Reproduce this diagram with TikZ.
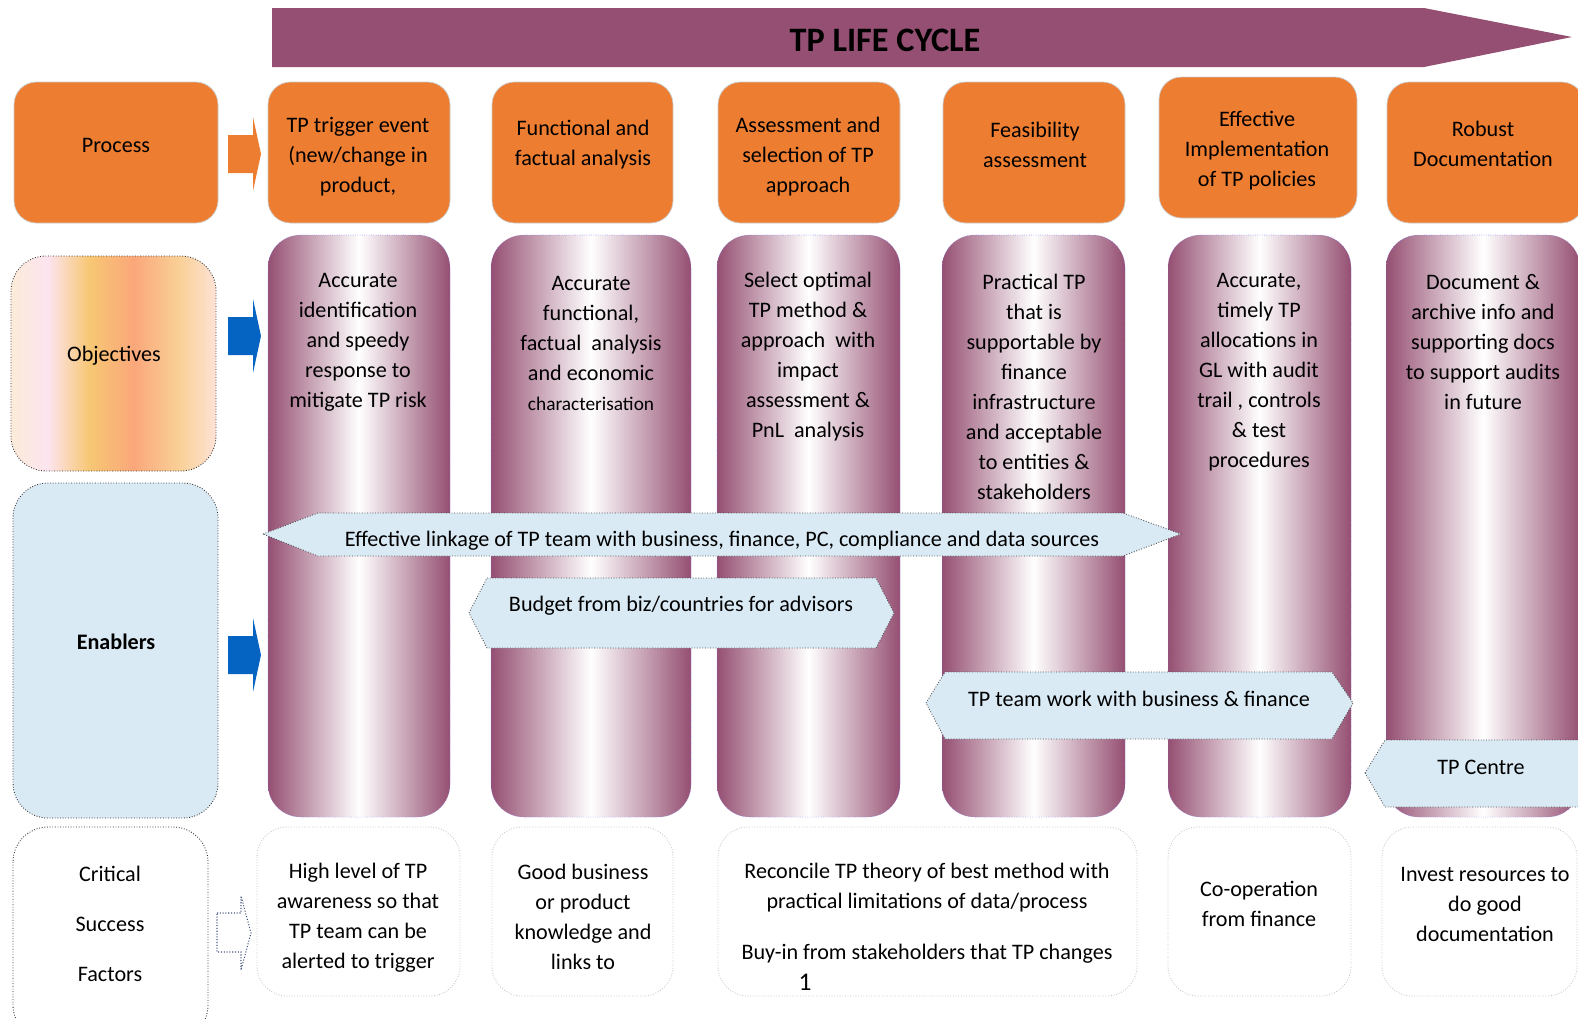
\documentclass[tikz,border=0pt]{standalone}
\usepackage{fontspec}
\setmainfont{Carlito}
\usepackage{tikz}

\definecolor{berry}{RGB}{149,79,114}
\definecolor{procorange}{RGB}{237,125,49}
\definecolor{paleblue}{RGB}{218,234,245}
\definecolor{arrowblue}{RGB}{5,99,193}
\definecolor{hollowblue}{RGB}{68,84,126}
\definecolor{objA}{RGB}{252,235,217}
\definecolor{objB}{RGB}{252,228,239}
\definecolor{objC}{RGB}{247,199,116}
\definecolor{objD}{RGB}{250,167,122}
\definecolor{objE}{RGB}{249,208,151}
\definecolor{objF}{RGB}{254,226,213}
\pgfdeclarehorizontalshading{objshade}{100bp}{color(0bp)=(objA); color(25bp)=(objA); color(34bp)=(objB); color(44bp)=(objC); color(55bp)=(objD); color(66bp)=(objE); color(75bp)=(objF); color(100bp)=(objF)}

\newcommand\txtsize{\fontsize{12.6}{17.07}\selectfont}

\begin{document}
\begin{tikzpicture}[x=0.02cm, y=-0.02cm,
    procbox/.style={fill=procorange, draw=gray!40, line width=0.4pt, rounded corners=0.45cm},
    tube/.style={left color=berry, right color=berry, middle color=white, draw=blue!50, densely dotted, line width=0.3pt, rounded corners=0.65cm},
    sidebox/.style={draw=black!80, densely dotted, line width=0.5pt, rounded corners=0.7cm},
    enabler/.style={fill=paleblue, draw=black!70, densely dotted, line width=0.5pt},
    csfbox/.style={draw=gray!45, densely dotted, line width=0.5pt, rounded corners=0.6cm},
    hollowarrow/.style={fill=white, draw=hollowblue, densely dotted, line width=0.6pt},
    txt/.style={align=center, font=\txtsize, inner sep=0pt}]
  \useasboundingbox (0,0) rectangle (1578,1018);
  \clip (0,0) rectangle (1578,1018);

  % life cycle banner
  \fill[berry] (272,8) -- (1424,8) -- (1572,37) -- (1424,67) -- (272,67) -- cycle;
  \node[font=\fontsize{19.5}{23}\selectfont\bfseries] (title) at (885,40) {TP LIFE CYCLE};

  % process row
  \draw[procbox] (14,82) rectangle (218,223);
  \foreach \a/\b in {268/450, 492/673, 718/900, 943/1125, 1387/1584}
    \draw[procbox] (\a,82) rectangle (\b,223);
  \draw[procbox] (1159,77) rectangle (1357,218);

  % objective columns
  \foreach \a/\b in {268/450, 491/691, 717/900, 942/1125, 1168/1351, 1386/1580}
    \shade[tube] (\a,235) rectangle (\b,817);

  % row headers
  \shade[sidebox, shading=objshade] (11,256) rectangle (216,471);
  \draw[sidebox, fill=paleblue] (13,483) rectangle (218,818);
  \draw[sidebox] (13,827) rectangle (208,1040);

  % block arrows
  \foreach \yc/\col in {154/procorange, 336/arrowblue, 655/arrowblue}
    \fill[\col, shift={(0,\yc)}] (228,-19) -- (253,-19) -- (253,-37) -- (261,0) -- (253,37) -- (253,19) -- (228,19) -- cycle;
  \draw[hollowarrow] (217,913) -- (241,913) -- (241,896) -- (251,933) -- (241,970) -- (241,952) -- (217,952) -- cycle;

  % enabler bars
  \draw[enabler] (263,534) -- (318,513) -- (1123,513) -- (1181,534) -- (1123,556) -- (318,556) -- cycle;
  \draw[enabler] (469,613) -- (487,578) -- (876,578) -- (894,613) -- (876,648) -- (487,648) -- cycle;
  \draw[enabler] (926,703) -- (945,672) -- (1332,672) -- (1353,703) -- (1332,739) -- (945,739) -- cycle;
  \draw[enabler] (1365,773) -- (1385,740) -- (1620,740) -- (1620,807) -- (1385,807) -- cycle;

  % critical success factors
  \foreach \a/\b in {257/460, 492/673, 718/1137, 1168/1351, 1382/1577}
    \draw[csfbox] (\a,827) rectangle (\b,996);

  % texts
  \node[txt] (proc) at (116,145) {Process};
  \node[txt] (p1) at (358,157) {TP trigger event\\(new/change in\\product,};
  \node[txt] (p2) at (583,145) {Functional and\\factual analysis};
  \node[txt] (p3) at (808,157) {Assessment and\\selection of TP\\approach};
  \node[txt] (p4) at (1035,145) {Feasibility\\assessment};
  \node[txt] (p5) at (1257,151) {Effective\\Implementation\\of TP policies};
  \node[txt] (p6) at (1483,144) {Robust\\Documentation};

  \node[txt] (obj) at (114,356) {Objectives};
  \node[txt] (o1) at (358,342) {Accurate\\identification\\and speedy\\response to\\mitigate TP risk};
  \node[txt] (o2) at (591,343) {Accurate\\functional,\\factual\ \ analysis\\and economic\\{\fontsize{11}{15}\selectfont characterisation}};
  \node[txt] (o3) at (808,357) {Select optimal\\TP method \&\\approach\ \ with\\impact\\assessment \&\\PnL\ \ analysis};
  \node[txt] (o4) at (1034,387) {Practical TP\\that is\\supportable by\\finance\\infrastructure\\and acceptable\\to entities \&\\stakeholders};
  \node[txt] (o5) at (1259,372) {Accurate,\\timely TP\\allocations in\\GL with audit\\trail , controls\\\& test\\procedures};
  \node[txt] (o6) at (1483,342) {Document \&\\archive info and\\supporting docs\\to support audits\\in future};

  \node[txt, font=\txtsize\bfseries] (enab) at (116,642) {Enablers};
  \node[txt] (e1) at (722,541) {Effective linkage of TP team with business, finance, PC, compliance and data sources};
  \node[txt] (e2) at (681,606) {Budget from biz/countries for advisors};
  \node[txt] (e3) at (1139,699) {TP team work with business \& finance};
  \node[txt] (e4) at (1481,767) {TP Centre};

  \node[txt, font=\fontsize{12.6}{28.4}\selectfont] (csf) at (110,924) {Critical\\Success\\Factors};
  \node[txt] (c1) at (358,918) {High level of TP\\awareness so that\\TP team can be\\alerted to trigger};
  \node[txt] (c2) at (583,917) {Good business\\or product\\knowledge and\\links to};
  \node[txt] (c3) at (927,913) {Reconcile TP theory of best method with\\practical limitations of data/process\\[12pt]Buy-in from stakeholders that TP changes};
  \node[txt, font=\fontsize{14.5}{17}\selectfont] (num) at (805,982) {1};
  \node[txt] (c4) at (1259,904) {Co-operation\\from finance};
  \node[txt] (c5) at (1485,904) {Invest resources to\\do good\\documentation};
\end{tikzpicture}
\end{document}
